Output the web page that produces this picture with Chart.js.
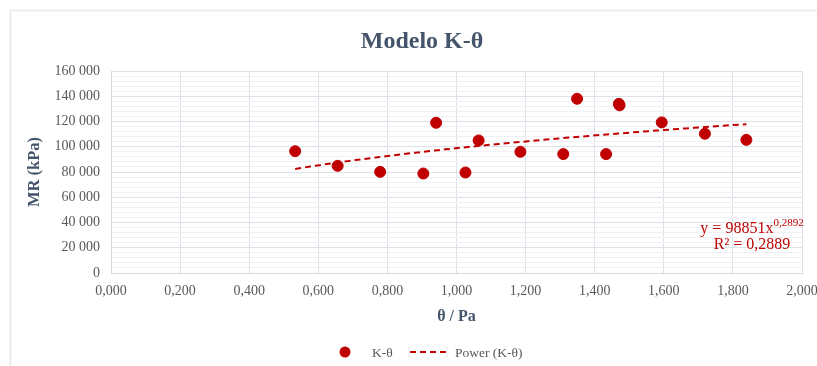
<!DOCTYPE html>
<html>
<head>
<meta charset="utf-8">
<script src="https://cdn.jsdelivr.net/npm/chart.js@4.4.1/dist/chart.umd.min.js"></script>
<style>
  html, body { margin: 0; padding: 0; background: #ffffff; }
  #wrap { width: 817px; height: 366px; position: relative; }
</style>
</head>
<body>
<div id="wrap"><canvas id="c" width="817" height="366"></canvas></div>
<script>
// ---- data ----
const chartTitle = 'Modelo K-θ';
const xAxisTitle = 'θ / Pa';
const yAxisTitle = 'MR (kPa)';
const seriesName = 'K-θ';
const trendName = 'Power (K-θ)';
const thetaValues = [0.533, 0.656, 0.779, 0.904, 0.941, 1.026, 1.064, 1.185, 1.309, 1.349, 1.433, 1.470, 1.472, 1.594, 1.719, 1.839];
const mrValues = [96500, 84900, 80100, 78800, 119000, 79600, 105000, 96000, 94200, 138000, 94200, 134000, 132800, 119300, 110300, 105500];
const trendCoefA = 98851;
const trendExpB = 0.2892;
const trendEquation = ['y = 98851x', '0,2892'];
const trendR2 = 'R² = 0,2889';
const xTickMin = 0, xTickMax = 2, xTickStep = 0.2;
const yTickMin = 0, yTickMax = 160000, yMajorStep = 20000, yMinorStep = 4000;

// ---- build ----
const RED = '#c00000';
const FONT = '"Liberation Serif", "Times New Roman", serif';
const scatterPts = thetaValues.map((x, i) => ({ x: x, y: mrValues[i] }));
const xMin = Math.min(...thetaValues), xMax = Math.max(...thetaValues);
const trendPts = [];
const nTrend = 60;
for (let i = 0; i <= nTrend; i++) {
  const x = xMin + (xMax - xMin) * i / nTrend;
  trendPts.push({ x: x, y: trendCoefA * Math.pow(x, trendExpB) });
}
function fmtThousands(v) {
  return String(Math.round(v)).replace(/\B(?=(\d{3})+(?!\d))/g, ' ');
}

const decor = {
  id: 'decor',
  beforeDraw(chart) {
    const ctx = chart.ctx;
    ctx.save();
    ctx.fillStyle = '#ffffff';
    ctx.fillRect(0, 0, chart.width, chart.height);
    ctx.strokeStyle = '#e6e8ec';
    ctx.lineWidth = 1.5;
    ctx.strokeRect(10.5, 10.5, chart.width + 20, chart.height + 20);
    ctx.restore();
  },
  afterDraw(chart) {
    const ctx = chart.ctx;
    ctx.save();
    // title
    ctx.fillStyle = '#44546a';
    ctx.font = 'bold 24px ' + FONT;
    ctx.textAlign = 'center';
    ctx.textBaseline = 'alphabetic';
    ctx.fillText(chartTitle, 422, 48);

    // trend equation
    ctx.fillStyle = RED;
    const mainFont = '16px ' + FONT, supFont = '11px ' + FONT;
    ctx.font = mainFont;
    const w1 = ctx.measureText(trendEquation[0]).width;
    ctx.font = supFont;
    const w2 = ctx.measureText(trendEquation[1]).width;
    const cx = 752;
    let sx = cx - (w1 + w2) / 2;
    ctx.textAlign = 'left';
    ctx.font = mainFont;
    ctx.fillText(trendEquation[0], sx, 233);
    ctx.font = supFont;
    ctx.fillText(trendEquation[1], sx + w1, 226);
    ctx.font = mainFont;
    ctx.textAlign = 'center';
    ctx.fillText(trendR2, cx, 249);

    // legend
    const ly = 352;
    ctx.fillStyle = RED;
    ctx.beginPath();
    ctx.arc(345, ly, 5.5, 0, Math.PI * 2);
    ctx.fill();
    ctx.fillStyle = '#595959';
    ctx.font = '13.5px ' + FONT;
    ctx.textAlign = 'left';
    ctx.textBaseline = 'middle';
    ctx.fillText(seriesName, 372, ly + 1);
    ctx.strokeStyle = RED;
    ctx.lineWidth = 2;
    ctx.setLineDash([6, 4]);
    ctx.beginPath();
    ctx.moveTo(410, ly);
    ctx.lineTo(448, ly);
    ctx.stroke();
    ctx.setLineDash([]);
    ctx.fillText(trendName, 455, ly + 1);
    ctx.restore();
  }
};

new Chart(document.getElementById('c'), {
  data: {
    datasets: [
      {
        type: 'scatter',
        label: seriesName,
        data: scatterPts,
        backgroundColor: RED,
        borderColor: RED,
        pointRadius: 5.5,
        pointHoverRadius: 5.5,
        order: 0
      },
      {
        type: 'line',
        label: trendName,
        data: trendPts,
        borderColor: RED,
        borderWidth: 2,
        borderDash: [6, 4],
        pointRadius: 0,
        fill: false,
        tension: 0,
        order: 1
      }
    ]
  },
  options: {
    responsive: false,
    animation: false,
    layout: { padding: { left: 25, right: 15, top: 71, bottom: 39.4 } },
    plugins: {
      legend: { display: false },
      title: { display: false },
      tooltip: { enabled: false }
    },
    scales: {
      x: {
        type: 'linear',
        min: xTickMin,
        max: xTickMax,
        afterFit(scale) { scale.height = 53.6; scale.paddingLeft = 0; scale.paddingRight = 0; },
        ticks: {
          stepSize: xTickStep,
          padding: 10,
          color: '#595959',
          font: { family: FONT, size: 14 },
          maxRotation: 0,
          callback: (v) => Number(v).toFixed(3).replace('.', ',')
        },
        grid: { color: '#dde1e8', drawTicks: false, lineWidth: 1 },
        border: { color: '#d5d9e0' },
        title: {
          display: true,
          text: xAxisTitle,
          color: '#44546a',
          font: { family: FONT, size: 16, weight: 'bold', lineHeight: 1.2 },
          padding: { top: 0, bottom: 0 }
        }
      },
      y: {
        type: 'linear',
        min: yTickMin,
        max: yTickMax,
        afterFit(scale) { scale.width = 86; scale.paddingTop = 0; scale.paddingBottom = 0; },
        ticks: {
          stepSize: yMinorStep,
          autoSkip: false,
          padding: 11,
          color: '#595959',
          font: { family: FONT, size: 14 },
          callback: (v) => (v % yMajorStep === 0 ? fmtThousands(v) : '')
        },
        grid: {
          drawTicks: false,
          lineWidth: 1,
          color: (ctx) => (ctx.tick && ctx.tick.value % yMajorStep === 0 ? '#dde1e8' : '#f0f1f4')
        },
        border: { color: '#d5d9e0' },
        title: {
          display: true,
          text: yAxisTitle,
          color: '#44546a',
          font: { family: FONT, size: 16.5, weight: 'bold', lineHeight: 1.2 },
          padding: { top: 0, bottom: 0 }
        }
      }
    }
  },
  plugins: [decor]
});
</script>
</body>
</html>
